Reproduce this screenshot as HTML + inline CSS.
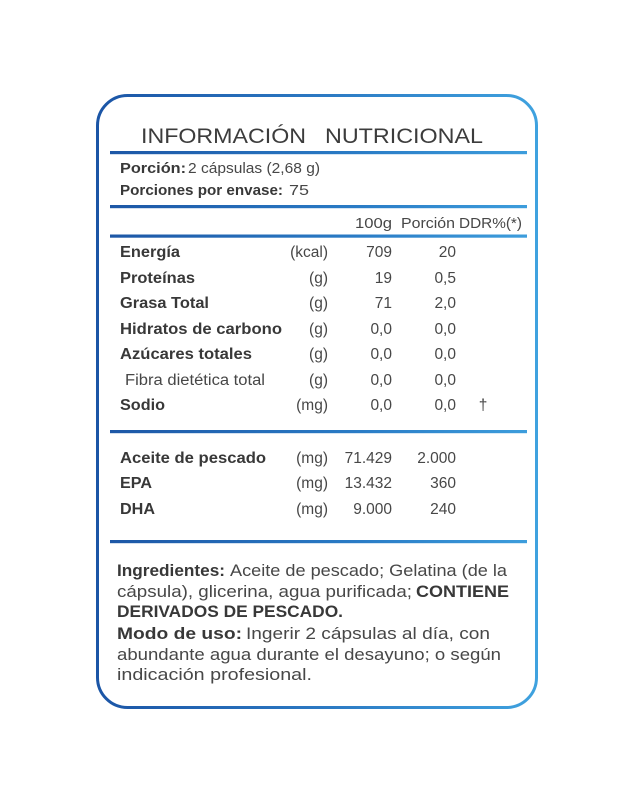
<!DOCTYPE html>
<html>
<head>
<meta charset="utf-8">
<style>
html,body{margin:0;padding:0;background:#fff;}
svg{display:block;}
text{font-family:"Liberation Sans",Arial,sans-serif;}
.b{font-weight:bold;fill:#383838;}
.r{fill:#474747;}
</style>
</head>
<body>
<svg width="635" height="810" viewBox="0 0 635 810" xmlns="http://www.w3.org/2000/svg">
<defs>
<linearGradient id="gb" gradientUnits="userSpaceOnUse" x1="96" y1="0" x2="538" y2="0">
<stop offset="0" stop-color="#1b55a6"/>
<stop offset="0.5" stop-color="#2b78c2"/>
<stop offset="1" stop-color="#3fa2df"/>
</linearGradient>
<linearGradient id="gl" gradientUnits="userSpaceOnUse" x1="110" y1="0" x2="527" y2="0">
<stop offset="0" stop-color="#1d57a6"/>
<stop offset="0.6" stop-color="#2a7cc6"/>
<stop offset="1" stop-color="#3d9ddc"/>
</linearGradient>
</defs>
<rect x="97.5" y="95.5" width="439" height="612" rx="30" ry="30" fill="#fff" stroke="url(#gb)" stroke-width="3"/>

<text x="141" y="143" font-size="21.5" fill="#3c3c3c" textLength="165" lengthAdjust="spacingAndGlyphs">INFORMACIÓN</text>
<text x="325" y="143" font-size="21.5" fill="#3c3c3c" textLength="158" lengthAdjust="spacingAndGlyphs">NUTRICIONAL</text>

<rect x="110" y="151" width="417" height="3.2" fill="url(#gl)"/>
<rect x="110" y="205" width="417" height="3.2" fill="url(#gl)"/>
<rect x="110" y="234.5" width="417" height="3.2" fill="url(#gl)"/>
<rect x="110" y="430" width="417" height="3.2" fill="url(#gl)"/>
<rect x="110" y="540" width="417" height="3.2" fill="url(#gl)"/>

<g font-size="14.5">
<text class="b" x="120" y="173" textLength="66" lengthAdjust="spacingAndGlyphs">Porción:</text>
<text class="r" x="188" y="173" textLength="132" lengthAdjust="spacingAndGlyphs">2 cápsulas (2,68 g)</text>
<text class="b" x="120" y="195" textLength="163" lengthAdjust="spacingAndGlyphs">Porciones por envase:</text>
<text class="r" x="289" y="195" textLength="20" lengthAdjust="spacingAndGlyphs">75</text>

<text class="r" x="355" y="228" textLength="37" lengthAdjust="spacingAndGlyphs">100g</text>
<text class="r" x="401" y="228" textLength="54" lengthAdjust="spacingAndGlyphs">Porción</text>
<text class="r" x="459" y="228" textLength="63" lengthAdjust="spacingAndGlyphs">DDR%(*)</text>
</g>

<g font-size="15.5">
<text class="b" x="120" y="257" textLength="60" lengthAdjust="spacingAndGlyphs">Energía</text>
<text class="b" x="120" y="283" textLength="75" lengthAdjust="spacingAndGlyphs">Proteínas</text>
<text class="b" x="120" y="308" textLength="89" lengthAdjust="spacingAndGlyphs">Grasa Total</text>
<text class="b" x="120" y="334" textLength="162" lengthAdjust="spacingAndGlyphs">Hidratos de carbono</text>
<text class="b" x="120" y="359" textLength="132" lengthAdjust="spacingAndGlyphs">Azúcares totales</text>
<text class="r" x="125" y="385" textLength="140" lengthAdjust="spacingAndGlyphs">Fibra dietética total</text>
<text class="b" x="120" y="410" textLength="45" lengthAdjust="spacingAndGlyphs">Sodio</text>

<g class="r" text-anchor="end">
<text x="328" y="257">(kcal)</text>
<text x="328" y="283">(g)</text>
<text x="328" y="308">(g)</text>
<text x="328" y="334">(g)</text>
<text x="328" y="359">(g)</text>
<text x="328" y="385">(g)</text>
<text x="328" y="410">(mg)</text>

<text x="392" y="257">709</text>
<text x="392" y="283">19</text>
<text x="392" y="308">71</text>
<text x="392" y="334">0,0</text>
<text x="392" y="359">0,0</text>
<text x="392" y="385">0,0</text>
<text x="392" y="410">0,0</text>

<text x="456" y="257">20</text>
<text x="456" y="283">0,5</text>
<text x="456" y="308">2,0</text>
<text x="456" y="334">0,0</text>
<text x="456" y="359">0,0</text>
<text x="456" y="385">0,0</text>
<text x="456" y="410">0,0</text>
</g>
<text class="r" x="483" y="410" text-anchor="middle">†</text>

<text class="b" x="120" y="463" textLength="146" lengthAdjust="spacingAndGlyphs">Aceite de pescado</text>
<text class="b" x="120" y="488" textLength="32" lengthAdjust="spacingAndGlyphs">EPA</text>
<text class="b" x="120" y="514" textLength="35" lengthAdjust="spacingAndGlyphs">DHA</text>
<g class="r" text-anchor="end">
<text x="328" y="463">(mg)</text>
<text x="328" y="488">(mg)</text>
<text x="328" y="514">(mg)</text>
<text x="392" y="463">71.429</text>
<text x="392" y="488">13.432</text>
<text x="392" y="514">9.000</text>
<text x="456" y="463">2.000</text>
<text x="456" y="488">360</text>
<text x="456" y="514">240</text>
</g>
</g>

<g font-size="16.5">
<text class="b" x="117" y="576" textLength="108" lengthAdjust="spacingAndGlyphs">Ingredientes:</text>
<text class="r" x="230" y="576" textLength="277" lengthAdjust="spacingAndGlyphs">Aceite de pescado; Gelatina (de la</text>
<text class="r" x="117" y="597" textLength="295" lengthAdjust="spacingAndGlyphs">cápsula), glicerina, agua purificada;</text>
<text class="b" x="416" y="597" textLength="93" lengthAdjust="spacingAndGlyphs">CONTIENE</text>
<text class="b" x="117" y="617" textLength="226" lengthAdjust="spacingAndGlyphs">DERIVADOS DE PESCADO.</text>
<text class="b" x="117" y="639" textLength="125" lengthAdjust="spacingAndGlyphs">Modo de uso:</text>
<text class="r" x="246" y="639" textLength="244" lengthAdjust="spacingAndGlyphs">Ingerir 2 cápsulas al día, con</text>
<text class="r" x="117" y="660" textLength="384" lengthAdjust="spacingAndGlyphs">abundante agua durante el desayuno; o según</text>
<text class="r" x="117" y="680" textLength="195" lengthAdjust="spacingAndGlyphs">indicación profesional.</text>
</g>
</svg>
</body>
</html>
